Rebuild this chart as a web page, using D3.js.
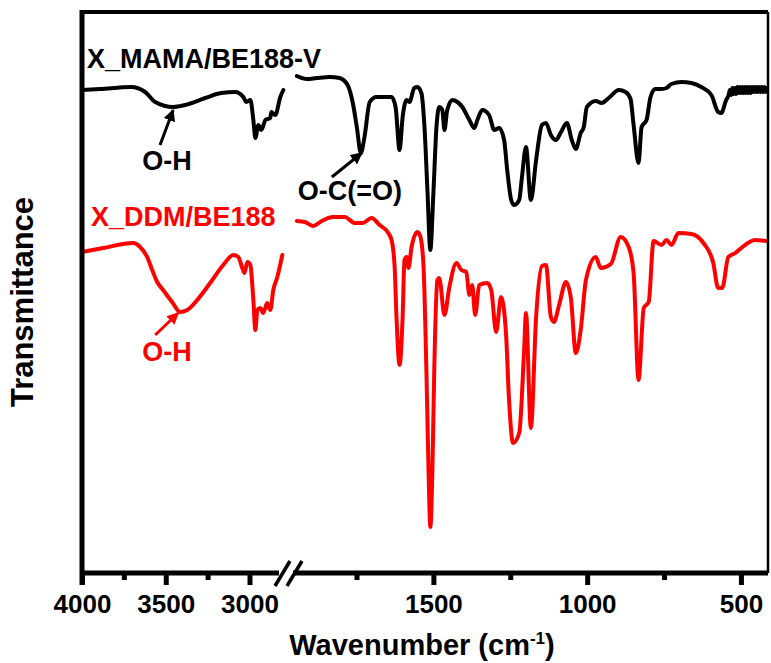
<!DOCTYPE html>
<html>
<head>
<meta charset="utf-8">
<script src="https://cdn.jsdelivr.net/npm/d3@7"></script>
<style>
  body { margin: 0; background: #fff; }
  svg { display: block; font-family: Arial, "Liberation Sans", sans-serif; font-weight: bold; }
</style>
</head>
<body>
<div id="chart"></div>
<script>
// FTIR spectra, broken wavenumber axis (4000-2800 | 1950-412)

// left segment (high wavenumber)
const blackLeftWn = [4000, 3892, 3707, 3623, 3563, 3456, 3384, 3264, 3169, 3085, 3037, 3019, 2995, 2977, 2965, 2947, 2929, 2905, 2876, 2870, 2846, 2816, 2798];
const blackLeftT  = [483, 484, 486, 481, 471, 466, 468, 475, 480, 481, 476, 471, 473, 453, 435, 448, 443, 453, 455, 461, 458, 476, 483];

const redLeftWn = [4000, 3874, 3695, 3653, 3611, 3581, 3551, 3516, 3462, 3414, 3372, 3312, 3235, 3157, 3097, 3067, 3043, 3030, 3013, 2995, 2977, 2965, 2953, 2936, 2918, 2894, 2876, 2858, 2834, 2804];
const redLeftT  = [321, 325, 330, 326, 316, 303, 291, 283, 271, 261, 263, 273, 290, 308, 318, 316, 305, 300, 311, 308, 273, 243, 263, 265, 260, 270, 263, 283, 296, 318];

// right segment (fingerprint region)
const blackRightWn = [1944, 1911, 1879, 1837, 1805, 1779, 1762, 1749, 1736, 1724, 1707, 1685, 1659, 1636, 1623, 1610, 1600, 1587, 1578, 1562,
  1552, 1539, 1529, 1519, 1510, 1500, 1490, 1481, 1471, 1464, 1455, 1438, 1422, 1406, 1383, 1367, 1357, 1341, 1319, 1302,
  1286, 1270, 1260, 1247, 1238, 1221, 1212, 1199, 1183, 1166, 1147, 1134, 1118, 1102, 1085, 1066, 1050, 1037, 1021, 1011,
  1001, 972, 953, 930, 897, 875, 859, 849, 833, 823, 807, 794, 778, 758, 742, 726, 693, 661, 629, 596,
  574, 564, 548, 540, 536, 532, 528, 524, 520, 516, 512, 508, 504, 500, 496, 492, 488, 484, 480, 476,
  472, 468, 464, 460, 456, 452, 448, 444, 440, 436, 432, 428, 424, 420, 416];
const blackRightT = [497, 494, 495, 496, 495, 488, 470, 446, 420, 436, 471, 476, 476, 476, 466, 423, 456, 473, 471, 485,
  486, 480, 446, 380, 323, 380, 446, 466, 463, 443, 463, 473, 471, 466, 453, 445, 453, 463, 458, 443,
  445, 433, 403, 373, 368, 373, 396, 426, 373, 413, 448, 450, 438, 433, 441, 450, 433, 424, 440, 446,
  466, 472, 470, 475, 483, 481, 474, 448, 410, 446, 453, 476, 484, 484, 485, 489, 491, 490, 486, 478,
  461, 460, 473, 478, 483, 478, 485, 479, 485, 479, 486, 480, 486, 480, 486, 480, 486, 480, 486, 480,
  486, 480, 486, 481, 486, 481, 486, 481, 486, 481, 486, 481, 486, 481, 485];

const redRightWn = [1944, 1918, 1892, 1863, 1827, 1788, 1756, 1730, 1701, 1675, 1649, 1636, 1626, 1620, 1610, 1600, 1594, 1587, 1581, 1571,
  1552, 1542, 1532, 1523, 1516, 1510, 1503, 1497, 1487, 1481, 1464, 1448, 1425, 1409, 1393, 1383, 1374, 1364, 1351, 1325,
  1312, 1296, 1280, 1264, 1254, 1241, 1221, 1205, 1199, 1183, 1166, 1147, 1134, 1118, 1108, 1092, 1069, 1053, 1037, 1021,
  1004, 972, 956, 923, 891, 865, 849, 833, 816, 800, 784, 758, 742, 726, 703, 661, 622, 590, 574, 561,
  541, 518, 499, 454, 418];
const redRightT = [352, 351, 347, 352, 356, 356, 350, 350, 355, 348, 341, 333, 306, 256, 208, 256, 313, 316, 305, 326,
  341, 336, 306, 206, 106, 46, 106, 206, 293, 295, 258, 286, 310, 303, 301, 278, 288, 258, 288, 290,
  283, 241, 276, 240, 173, 130, 140, 223, 260, 145, 256, 307, 308, 256, 251, 267, 291, 275, 220, 243,
  293, 316, 305, 309, 336, 326, 300, 193, 265, 271, 332, 328, 333, 328, 340, 339, 330, 310, 285, 285,
  316, 320, 325, 333, 332];

const majorLeft = [4000, 3500, 3000];
const minorLeft = [3750, 3250];
const majorRight = [1500, 1000, 500];
const minorRight = [1750, 1250, 750];

const seriesNames = ["X_MAMA/BE188-V", "X_DDM/BE188"];
const seriesColors = ["#000000", "#ff0000"];

const width = 771, height = 663;
const plotTop = 12, plotBottom = 573, plotLeft = 82, plotRight = 768;

const svg = d3.select("#chart").append("svg")
  .attr("width", width)
  .attr("height", height);

// scales
const xLeft = d3.scaleLinear().domain([4000, 2800]).range([plotLeft, 283]);
const xRight = d3.scaleLinear().domain([1950, 412]).range([295, plotRight]);
const y = d3.scaleLinear().domain([0, 561]).range([plotBottom, plotTop]);

function drawSeries(xs, wn, t, color) {
  const pts = wn.map((w, i) => [w, t[i]]);
  const line = d3.line()
    .x(d => xs(d[0]))
    .y(d => y(d[1]))
    .curve(d3.curveMonotoneX);
  svg.append("path")
    .datum(pts)
    .attr("d", line)
    .attr("fill", "none")
    .attr("stroke", color)
    .attr("stroke-width", 4)
    .attr("stroke-linejoin", "round")
    .attr("stroke-linecap", "round");
}

drawSeries(xLeft, blackLeftWn, blackLeftT, seriesColors[0]);
drawSeries(xRight, blackRightWn, blackRightT, seriesColors[0]);
drawSeries(xLeft, redLeftWn, redLeftT, seriesColors[1]);
drawSeries(xRight, redRightWn, redRightT, seriesColors[1]);

// frame
svg.append("line").attr("x1", plotLeft).attr("x2", plotRight).attr("y1", plotTop).attr("y2", plotTop)
  .attr("stroke", "#000").attr("stroke-width", 4);
svg.append("line").attr("x1", plotRight).attr("x2", plotRight).attr("y1", plotTop).attr("y2", plotBottom)
  .attr("stroke", "#000").attr("stroke-width", 2.5);
svg.append("line").attr("x1", plotLeft).attr("x2", plotLeft).attr("y1", plotTop - 2).attr("y2", plotBottom + 12)
  .attr("stroke", "#000").attr("stroke-width", 5);
// bottom axis, with gap for the break
svg.append("line").attr("x1", plotLeft).attr("x2", 279).attr("y1", plotBottom).attr("y2", plotBottom)
  .attr("stroke", "#000").attr("stroke-width", 5);
svg.append("line").attr("x1", 293).attr("x2", plotRight).attr("y1", plotBottom).attr("y2", plotBottom)
  .attr("stroke", "#000").attr("stroke-width", 5);
// break marks
[[275, 586, 290, 561], [287, 586, 302, 561]].forEach(s => {
  svg.append("line").attr("x1", s[0]).attr("y1", s[1]).attr("x2", s[2]).attr("y2", s[3])
    .attr("stroke", "#000").attr("stroke-width", 3.5);
});

// ticks
function addAxis(xs, major, minor) {
  const gMaj = svg.append("g")
    .attr("transform", `translate(0,${plotBottom})`)
    .call(d3.axisBottom(xs).tickValues(major).tickSize(12).tickSizeOuter(0).tickFormat(d3.format("d")));
  gMaj.select(".domain").remove();
  gMaj.selectAll(".tick line").attr("stroke-width", 5);
  gMaj.selectAll(".tick text")
    .attr("y", 40).attr("dy", null)
    .attr("fill", "#000")
    .style("font-size", "26px")
    .style("font-weight", "bold")
    .style("font-family", "Arial, 'Liberation Sans', sans-serif");

  const gMin = svg.append("g")
    .attr("transform", `translate(0,${plotBottom})`)
    .call(d3.axisBottom(xs).tickValues(minor).tickSize(7).tickSizeOuter(0).tickFormat(""));
  gMin.select(".domain").remove();
  gMin.selectAll(".tick line").attr("stroke-width", 5);
}
addAxis(xLeft, majorLeft, minorLeft);
addAxis(xRight, majorRight, minorRight);

// axis titles
const xt = svg.append("text")
  .attr("x", 422).attr("y", 655)
  .attr("text-anchor", "middle")
  .style("font-size", "29px");
xt.append("tspan").text("Wavenumber (cm");
xt.append("tspan").attr("dy", -11).style("font-size", "17px").text("-1");
xt.append("tspan").attr("dy", 11).text(")");

svg.append("text")
  .attr("transform", "translate(33,302) rotate(-90)")
  .attr("text-anchor", "middle")
  .style("font-size", "31px")
  .text("Transmittance");

// series labels
svg.append("text")
  .attr("x", xLeft(3970)).attr("y", y(505))
  .attr("fill", seriesColors[0])
  .style("font-size", "27px")
  .text(seriesNames[0]);
svg.append("text")
  .attr("x", xLeft(3946)).attr("y", y(347))
  .attr("fill", seriesColors[1])
  .style("font-size", "27px")
  .text(seriesNames[1]);

// peak annotations
const defs = svg.append("defs");
seriesColors.forEach((c, i) => {
  defs.append("marker")
    .attr("id", "arrow" + i)
    .attr("viewBox", "0 0 10 10")
    .attr("refX", 9).attr("refY", 5)
    .attr("markerWidth", 4).attr("markerHeight", 4)
    .attr("markerUnits", "strokeWidth")
    .attr("orient", "auto")
    .append("path")
    .attr("d", "M0,0 L10,5 L0,10 Z")
    .attr("fill", c);
});

const notes = [
  { xs: xLeft, from: [3534, 428], to: [3456, 463], text: "O-H", tx: 3492, ty: 403, anchor: "middle", s: 0 },
  { xs: xRight, from: [1830, 396], to: [1733, 420], text: "O-C(=O)", tx: 1941, ty: 373, anchor: "start", s: 0 },
  { xs: xLeft, from: [3563, 238], to: [3426, 260], text: "O-H", tx: 3492, ty: 212, anchor: "middle", s: 1 }
];
notes.forEach(n => {
  svg.append("line")
    .attr("x1", n.xs(n.from[0])).attr("y1", y(n.from[1]))
    .attr("x2", n.xs(n.to[0])).attr("y2", y(n.to[1]))
    .attr("stroke", seriesColors[n.s])
    .attr("stroke-width", 3)
    .attr("marker-end", `url(#arrow${n.s})`);
  svg.append("text")
    .attr("x", n.xs(n.tx)).attr("y", y(n.ty))
    .attr("text-anchor", n.anchor)
    .attr("fill", seriesColors[n.s])
    .style("font-size", "27px")
    .text(n.text);
});
</script>
</body>
</html>
